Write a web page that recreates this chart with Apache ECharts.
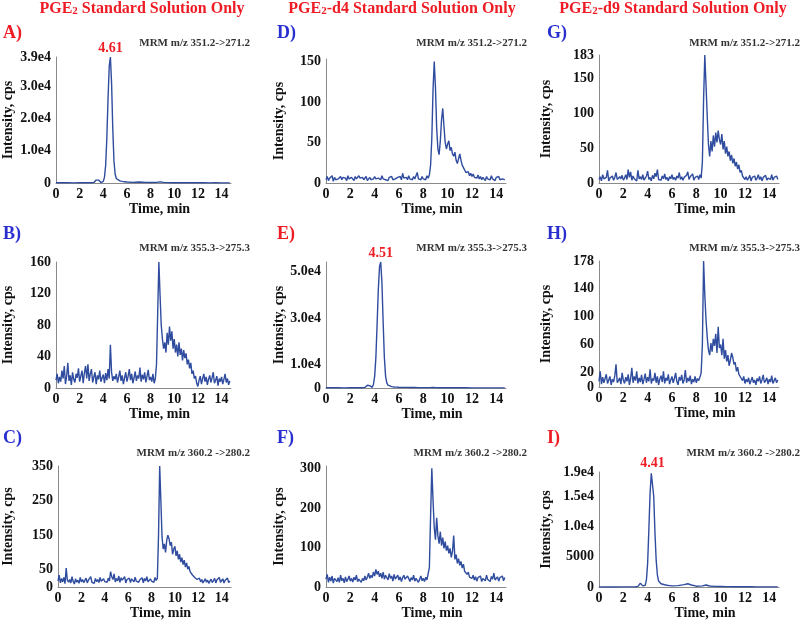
<!DOCTYPE html>
<html><head><meta charset="utf-8">
<script src="https://cdn.jsdelivr.net/npm/echarts@6/dist/echarts.min.js"></script>
<style>html,body{margin:0;padding:0;background:#fff}#c{width:800px;height:621px}</style>
</head><body><div id="c"></div>
<script>
// ---------- sampling times (min) for the noisy traces ----------
const times = [
0,0.1,0.2,0.3,0.4,0.5,0.6,0.7,0.8,0.9,
1,1.1,1.2,1.3,1.4,1.5,1.6,1.7,1.8,1.9,
2,2.1,2.2,2.3,2.4,2.5,2.6,2.7,2.8,2.9,
3,3.1,3.2,3.3,3.4,3.5,3.6,3.7,3.8,3.9,
4,4.1,4.2,4.3,4.4,4.5,4.6,4.7,4.8,4.9,
5,5.1,5.2,5.3,5.4,5.5,5.6,5.7,5.8,5.9,
6,6.1,6.2,6.3,6.4,6.5,6.6,6.7,6.8,6.9,
7,7.1,7.2,7.3,7.4,7.5,7.6,7.7,7.8,7.9,
8,8.1,8.2,8.3,8.4,8.5,8.6,8.7,8.8,8.9,
9,9.1,9.2,9.3,9.4,9.5,9.6,9.7,9.8,9.9,
10,10.1,10.2,10.3,10.4,10.5,10.6,10.7,10.8,10.9,
11,11.1,11.2,11.3,11.4,11.5,11.6,11.7,11.8,11.9,
12,12.1,12.2,12.3,12.4,12.5,12.6,12.7,12.8,12.9,
13,13.1,13.2,13.3,13.4,13.5,13.6,13.7,13.8,13.9,
14,14.1,14.2,14.3,14.4,14.5,14.6,14.7];

// ---------- sampling times (min) for the single-peak traces ----------
const peakTimes = [0,0.5,1,1.5,2,2.5,3,3.2,3.3,3.4,3.5,3.6,3.7,3.8,3.9,
4,4.1,4.2,4.3,4.4,4.5,4.6,4.7,4.8,4.9,5,5.1,5.2,5.4,5.6,5.8,6,6.5,7,7.3,7.6,
8,8.5,8.8,9.1,9.5,10,10.5,11,11.5,12,12.5,13,13.5,14,14.7];

// A) PGE2 standard, MRM 351.2->271.2
const valuesA = [80,60,70,50,60,70,90,150,400,900,1300,900,300,150,200,
500,1800,5500,14000,26000,36000,39000,31000,17000,7000,2800,1400,900,650,500,400,300,200,300,250,200,
150,200,350,200,120,100,80,90,70,60,70,50,60,50,40];
// E) PGE2-d4 standard, MRM 355.3->275.3
const valuesE = [100,80,90,70,80,90,120,250,600,1200,1500,1000,400,300,1500,
5000,13000,27000,42000,52000,54000,45000,28000,13000,5000,2200,1200,800,600,450,380,300,250,220,200,180,
150,170,200,150,120,100,90,80,80,70,60,60,50,50,40];
// I) PGE2-d9 standard, MRM 360.2->280.2
const valuesI = [30,25,30,25,30,35,50,120,350,650,500,200,100,300,1200,
4000,9500,15500,18800,19000,15000,9000,4500,2000,1000,700,550,450,380,300,250,200,250,400,550,350,
150,200,350,180,120,100,80,70,60,50,50,40,40,35,30];

// D) PGE2-d4 standard, MRM 351.2->271.2
const valuesD = [
4,8,3,6,5,9,2,7,4,6, 5,3,8,4,7,5,6,3,9,5, 4,7,6,3,8,5,4,9,6,5, 7,4,6,8,3,5,7,4,6,5,
8,5,3,6,7,4,9,5,6,4, 6,3,7,5,8,4,6,5,3,7, 5,8,4,12,6,5,7,4,9,5, 6,4,8,5,7,13,5,6,4,8,
5,7,4,9,6,10,22,55,115,150, 118,68,42,35,52,78,92,70,50,42, 48,52,40,44,36,33,38,28,24,30,
36,28,22,19,16,13,11,14,9,12, 8,11,7,9,6,10,5,8,4,7, 6,3,8,5,7,4,9,5,6,3, 7,5,8,4,6,5,7,4];
// G) PGE2-d9 standard, MRM 351.2->271.2
const valuesG = [
5,9,3,12,6,4,8,18,3,7, 6,10,4,8,15,5,3,9,6,11, 4,7,12,5,19,8,16,4,10,6, 8,3,18,6,9,5,12,4,7,10,
17,5,8,3,11,6,14,9,19,5, 7,4,10,6,13,5,8,3,9,6, 12,5,8,4,10,7,15,5,9,4, 8,6,11,16,5,9,7,13,4,8,
6,10,5,12,7,30,120,183,140,95, 55,38,60,45,68,52,72,58,75,62, 55,70,48,60,42,52,38,45,32,40,
28,35,24,30,20,26,15,18,10,8, 5,9,4,7,11,3,8,6,10,4, 7,12,5,9,3,8,6,11,4,7, 9,5,12,4,8,6,10,5];
// B) PGE2 standard, MRM 355.3->275.3
const valuesB = [
10,18,6,14,8,22,12,28,5,15, 32,9,16,4,20,11,7,18,13,25, 8,15,22,6,19,28,12,30,9,18, 24,7,14,20,5,16,11,22,8,13,
17,6,19,10,24,12,55,20,9,15, 11,18,7,14,22,9,16,5,13,20, 8,15,24,10,18,6,13,21,9,16, 12,26,8,17,11,20,7,15,23,10,
14,8,18,6,12,30,95,160,118,80, 62,50,58,45,70,55,78,60,72,50, 62,45,55,40,58,42,50,35,48,38,
44,30,36,25,32,18,22,12,15,6, 2,10,15,5,12,18,8,14,4,11, 16,7,13,20,6,10,15,3,12,8, 14,5,11,18,7,12,4,9];
// H) PGE2-d9 standard, MRM 355.3->275.3
const valuesH = [
8,22,4,14,6,12,18,5,10,15, 3,11,7,16,32,6,9,13,4,20, 10,5,14,8,18,3,12,27,6,15, 9,22,5,13,7,17,4,11,19,6,
14,8,25,5,12,9,20,6,15,3, 11,16,7,22,5,13,9,18,4,10, 15,6,12,20,8,3,14,9,17,5, 10,24,6,13,8,16,4,11,7,15,
6,12,9,14,20,60,178,130,95,70, 52,45,62,50,68,58,75,48,85,55, 60,45,68,40,52,36,45,30,38,48,
42,32,35,22,28,18,20,12,9,15, 5,11,7,13,4,9,14,6,10,3, 12,8,15,5,10,17,6,9,13,4, 11,7,16,5,9,13,6,10];
// C) PGE2 standard, MRM 360.2->280.2
const valuesC = [
18,35,12,25,15,28,10,55,20,14, 22,12,30,16,9,24,14,20,11,28, 15,22,13,18,26,12,20,15,30,14, 19,11,25,16,22,13,28,17,12,24,
16,21,14,26,18,45,30,22,38,15, 25,18,32,14,27,20,16,30,12,22, 18,26,13,24,20,15,29,17,22,14, 21,16,27,12,25,18,30,15,20,24,
17,22,14,28,19,25,150,350,250,145, 110,125,100,135,150,140,120,130,95,110, 118,90,105,80,95,72,85,65,78,58,
70,52,60,45,48,35,40,28,30,22, 20,26,15,22,12,18,24,14,20,11, 17,23,13,19,25,12,21,16,28,14, 19,24,12,20,15,26,13,18];
// F) PGE2-d4 standard, MRM 360.2->280.2
const valuesF = [
20,32,12,25,15,28,10,22,18,14, 24,12,30,16,22,11,26,14,20,28, 15,22,13,25,18,30,14,20,24,12, 22,16,28,18,25,35,22,30,24,38,
28,45,32,40,26,35,22,38,20,30, 25,18,34,22,28,15,32,20,24,30, 18,26,14,24,30,20,16,28,22,14, 24,18,30,15,22,26,12,20,28,16,
22,14,25,18,20,50,180,300,220,150, 120,175,130,110,140,105,125,98,115,92, 105,85,98,75,90,130,70,82,60,72,
55,65,48,58,40,45,32,38,25,28, 22,30,18,26,15,24,20,28,14,22, 25,16,30,19,23,14,27,20,35,18, 22,26,15,24,19,28,16,24];

// ---------- text ----------
const columnTitles = [['PGE','2',' Standard Solution Only'],['PGE','2','-d4 Standard Solution Only'],['PGE','2','-d9 Standard Solution Only']];
const panelLetters = ['A)','B)','C)','D)','E)','F)','G)','H)','I)'];
const mrmLabels = ['MRM m/z 351.2->271.2','MRM m/z 355.3->275.3','MRM m/z 360.2 ->280.2'];
const peakLabels = {A:'4.61', E:'4.51', I:'4.41'};
const xTickVals = [0,2,4,6,8,10,12,14];
const yTicks = {
  A:{vals:[0,10000,20000,30000,39000], text:['0','1.0e4','2.0e4','3.0e4','3.9e4'], max:39000, interval:10000},
  B:{vals:[0,40,80,120,160], text:['0','40','80','120','160'], max:160, interval:40},
  C:{vals:[0,50,150,250,350], text:['0','50','150','250','350'], max:350, interval:50},
  D:{vals:[0,50,100,150], text:['0','50','100','150'], max:153, interval:50},
  E:{vals:[0,10000,30000,50000], text:['0','1.0e4','3.0e4','5.0e4'], max:54000, interval:10000},
  F:{vals:[0,100,200,300], text:['0','100','200','300'], max:306, interval:100},
  G:{vals:[0,50,100,150,183], text:['0','50','100','150','183'], max:183, interval:50},
  H:{vals:[0,20,60,100,140,178], text:['0','20','60','100','140','178'], max:178, interval:20},
  I:{vals:[0,5000,10000,15000,19000], text:['0','5000','1.0e4','1.5e4','1.9e4'], max:19000, interval:5000}
};

// ---------- layout ----------
const SERIF = '"Liberation Serif","Times New Roman",serif';
const RED = '#ee1c24', BLUE = '#2a2fd0', LINE = '#2f4c9f';
const colLeft = [55, 326, 599], colWidth = [176, 180, 180], nameGapY = [[41,41,43],[40,40,40],[46,46,46]];
const panels = [
  {k:'A', c:0, r:0, top:57,  h:126, t:peakTimes, v:valuesA, red:true},
  {k:'B', c:0, r:1, top:262, h:126, t:times, v:valuesB},
  {k:'C', c:0, r:2, top:466, h:127, t:times, v:valuesC},
  {k:'D', c:1, r:0, top:59,  h:124, t:times, v:valuesD},
  {k:'E', c:1, r:1, top:262, h:126, t:peakTimes, v:valuesE, red:true},
  {k:'F', c:1, r:2, top:466, h:125, t:times, v:valuesF},
  {k:'G', c:2, r:0, top:55,  h:128, t:times, v:valuesG},
  {k:'H', c:2, r:1, top:261, h:126, t:times, v:valuesH},
  {k:'I', c:2, r:2, top:472, h:119, t:peakTimes, v:valuesI, red:true}
];
const letterY = [33, 234, 438], mrmY = [43, 248, 453];
const letterX = [3, 277, 547], mrmRight = [250, 527, 800], titleX = [142, 402, 673];

const grid = [], xAxis = [], yAxis = [], series = [], graphic = [];
panels.forEach((p, i) => {
  grid.push({left: colLeft[p.c], top: p.top, width: colWidth[p.c], height: p.h, containLabel: false});
  xAxis.push({
    gridIndex: i, type: 'value', min: 0, max: 14.8, interval: 2,
    splitLine: {show: false}, axisTick: {show: false},
    axisLine: {lineStyle: {color: '#8a8a8a', width: 1}},
    axisLabel: {margin: 4, color: '#111', fontFamily: SERIF, fontWeight: 'bold', fontSize: 14,
      formatter: v => xTickVals.indexOf(v) >= 0 ? String(v) : ''},
    name: 'Time, min', nameLocation: 'middle', nameGap: 15,
    nameTextStyle: {color: '#111', fontFamily: SERIF, fontWeight: 'bold', fontSize: 14, padding: [0,0,0,32]}
  });
  const yt = yTicks[p.k];
  yAxis.push({
    gridIndex: i, type: 'value', min: 0, max: yt.max, interval: yt.interval,
    splitLine: {show: false}, axisTick: {show: false},
    axisLine: {show: true, lineStyle: {color: '#8a8a8a', width: 1}},
    axisLabel: {margin: 5, color: '#111', fontFamily: SERIF, fontWeight: 'bold', fontSize: 14,
      formatter: v => { const j = yt.vals.indexOf(v); return j >= 0 ? yt.text[j] : ''; }},
    name: 'Intensity, cps', nameLocation: 'middle', nameGap: nameGapY[p.c][p.r],
    nameTextStyle: {color: '#111', fontFamily: SERIF, fontWeight: 'bold', fontSize: 14}
  });
  const s = {
    type: 'line', xAxisIndex: i, yAxisIndex: i, showSymbol: false, symbol: 'none',
    lineStyle: {color: LINE, width: 1.4}, itemStyle: {color: LINE},
    data: p.t.map((t, j) => [t, p.v[j]]), animation: false, silent: true
  };
  if (peakLabels[p.k]) {
    let mi = 0; p.v.forEach((val, j) => { if (val > p.v[mi]) mi = j; });
    s.markPoint = {symbol: 'circle', symbolSize: 1, itemStyle: {color: 'rgba(0,0,0,0)'},
      data: [{coord: [p.t[mi], p.v[mi]]}],
      label: {show: true, position: 'top', distance: 1, formatter: peakLabels[p.k],
        color: RED, fontFamily: SERIF, fontWeight: 'bold', fontSize: 14}};
  }
  series.push(s);
  graphic.push({type: 'text', x: letterX[p.c], y: letterY[p.r],
    style: {text: panelLetters[i], fill: p.red ? RED : BLUE, font: 'bold 18px ' + SERIF, align: 'left', verticalAlign: 'middle'}});
  graphic.push({type: 'text', x: mrmRight[p.c], y: mrmY[p.r],
    style: {text: mrmLabels[p.r], fill: '#333', font: 'bold 11px ' + SERIF, align: 'right', verticalAlign: 'middle'}});
});
columnTitles.forEach((ct, c) => {
  graphic.push({type: 'text', x: titleX[c], y: 9,
    style: {text: '{a|' + ct[0] + '}{s|' + ct[1] + '}{a|' + ct[2] + '}', align: 'center', verticalAlign: 'middle',
      rich: {a: {fill: RED, fontFamily: SERIF, fontWeight: 'bold', fontSize: 16},
             s: {fill: RED, fontFamily: SERIF, fontWeight: 'bold', fontSize: 11, padding: [4,0,0,0]}}}});
});

const chart = echarts.init(document.getElementById('c'), null, {renderer: 'canvas'});
chart.setOption({animation: false, backgroundColor: '#fff', grid, xAxis, yAxis, series, graphic});
</script></body></html>
